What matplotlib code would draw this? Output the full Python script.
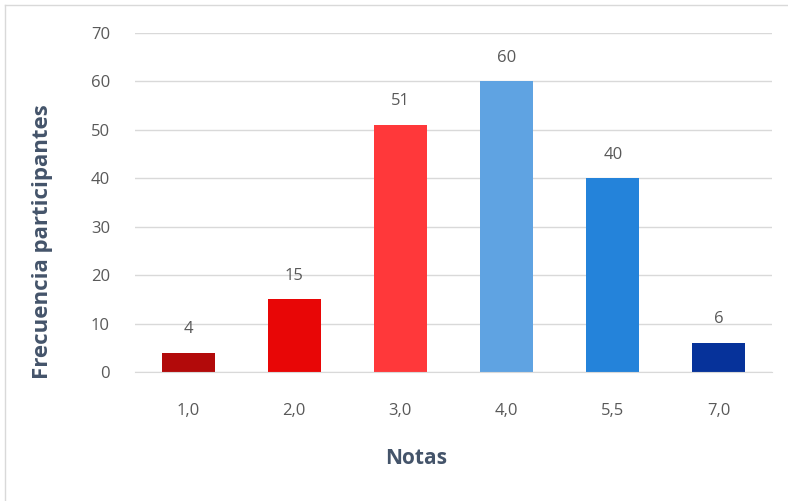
import matplotlib
matplotlib.use("Agg")
import matplotlib.pyplot as plt
from matplotlib.lines import Line2D

categories = ["1,0", "2,0", "3,0", "4,0", "5,5", "7,0"]
values = [4, 15, 51, 60, 40, 6]
colors = ["#B20A0A", "#E80606", "#FF383A", "#5FA3E2", "#2483DA", "#06329A"]
yticks = [0, 10, 20, 30, 40, 50, 60, 70]

plt.rcParams['font.family'] = ['Open Sans', 'DejaVu Sans']
txt = "#595959"
ttl = "#44546A"

W, H = 788, 501
fig = plt.figure(figsize=(W/100, H/100), dpi=100)
ax = fig.add_axes([135/W, 1-372/H, (772-135)/W, (372-33)/H])

x = range(len(categories))
ax.bar(x, values, width=0.5, color=colors, zorder=3)
for xi, v in zip(x, values):
    ax.annotate(str(v), (xi, v), xytext=(0, 17), textcoords='offset points',
                ha='center', va='center', fontsize=12, color=txt)

ax.set_xlim(-0.5, len(categories) - 0.5)
ax.set_ylim(0, 70)
ax.set_yticks(yticks)
ax.set_xticks(list(x))
ax.set_xticklabels(categories)
ax.tick_params(axis='both', length=0, labelsize=12, labelcolor=txt)
ax.tick_params(axis='y', pad=18)
ax.tick_params(axis='x', pad=22)
ax.grid(axis='y', color='#D9D9D9', linewidth=1, zorder=0)
for s in ['top', 'right', 'left']:
    ax.spines[s].set_visible(False)
ax.spines['bottom'].set_color('#D9D9D9')
ax.spines['bottom'].set_zorder(4)

fig.text(43/W, 1-242/H, "Frecuencia participantes", rotation=90, ha='center', va='center',
         fontsize=16, fontweight='bold', color=ttl)
fig.text(416/W, 1-459/H, "Notas", ha='center', va='center',
         fontsize=15, fontweight='bold', color=ttl)

fig.add_artist(Line2D([5/W, 1], [1-5/H, 1-5/H], transform=fig.transFigure, color='#D9D9D9', linewidth=1))
fig.add_artist(Line2D([5/W, 5/W], [0, 1-5/H], transform=fig.transFigure, color='#D9D9D9', linewidth=1))

fig.savefig("out.png", dpi=100)
